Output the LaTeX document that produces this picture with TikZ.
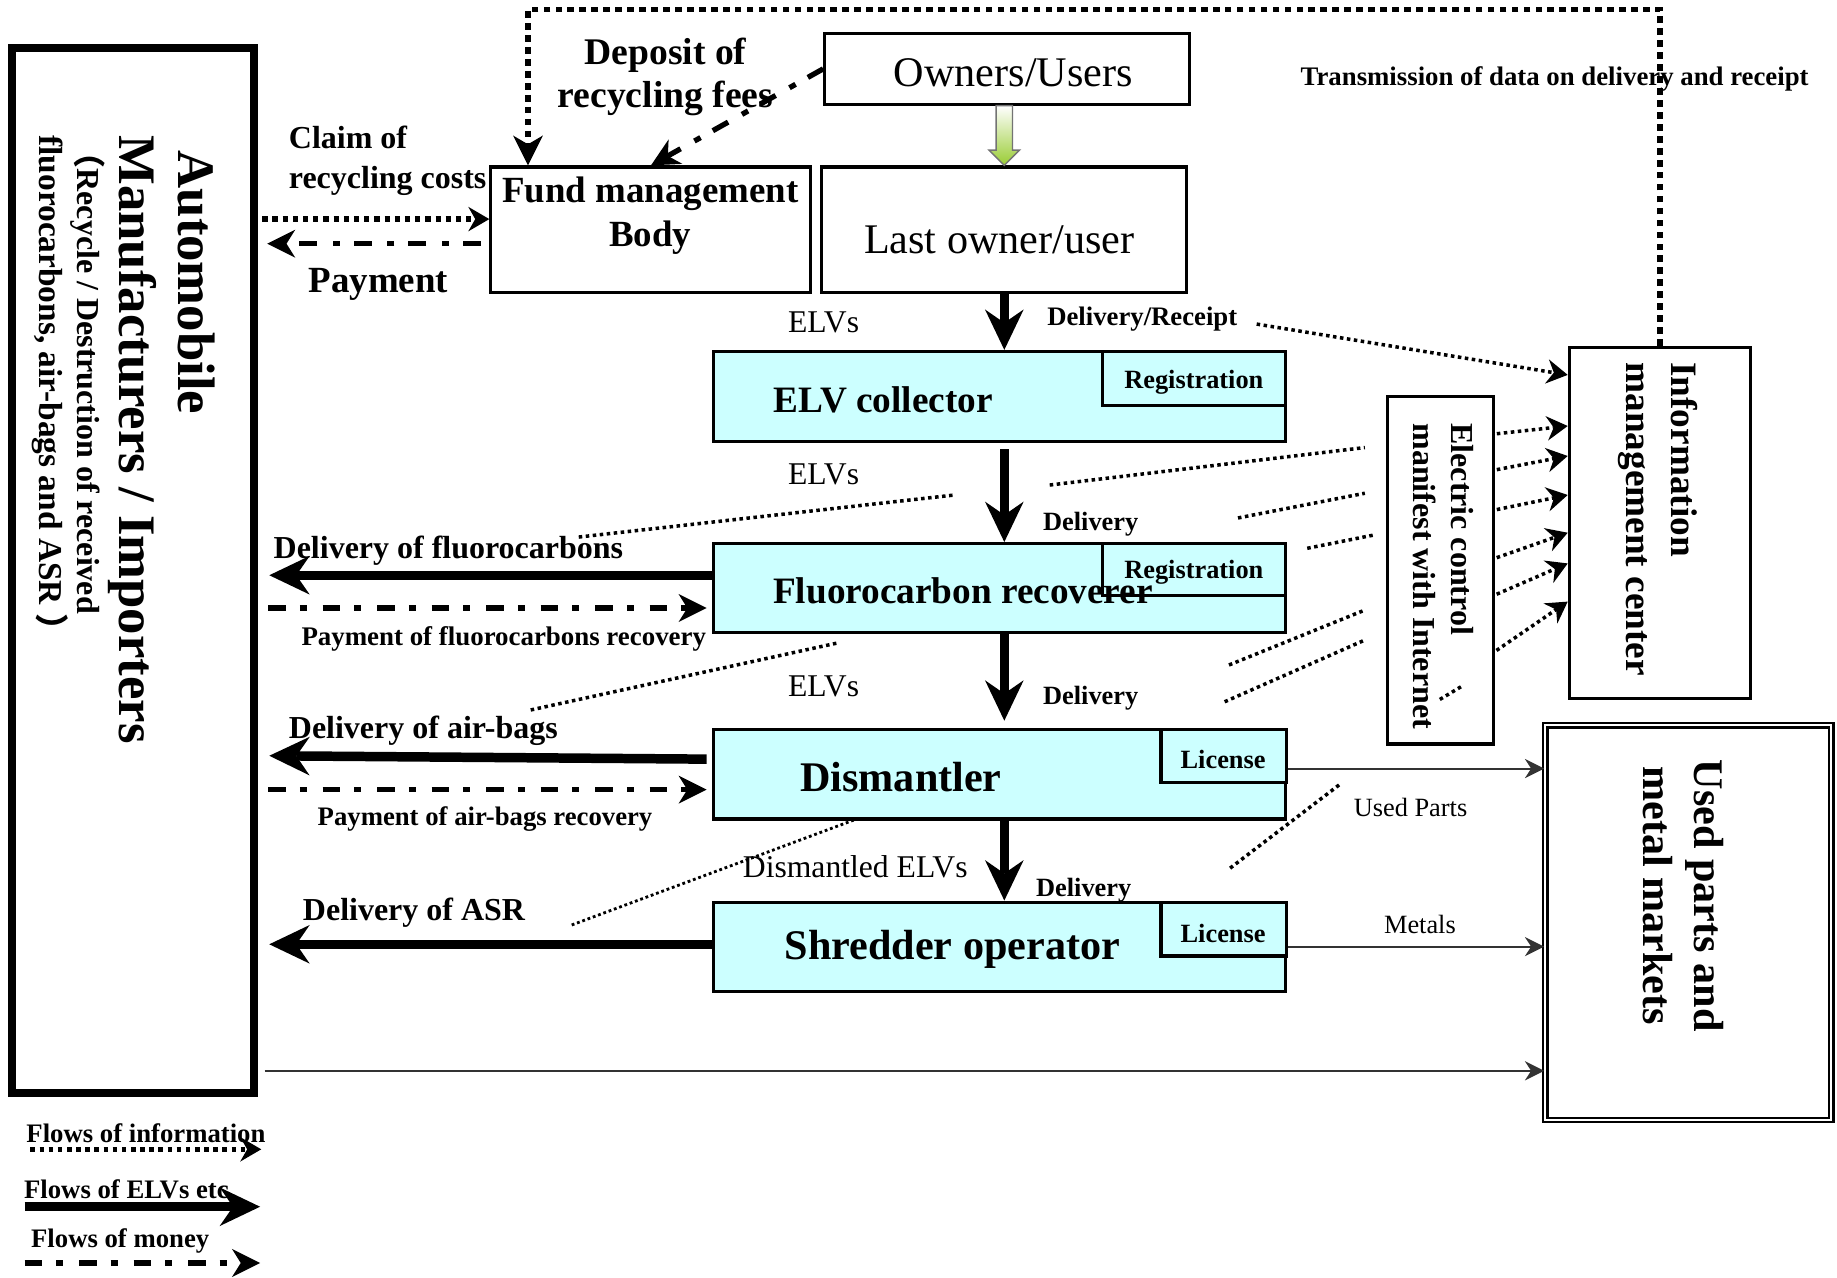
\documentclass[tikz,border=0pt]{standalone}
\usepackage{fontspec}
\setmainfont{Liberation Serif}
\newfontfamily\cjk{Noto Sans CJK SC}
\usetikzlibrary{arrows.meta,calc,fit}
\definecolor{elvcyan}{HTML}{CCFFFF}
\definecolor{arrowgreen}{HTML}{99CC33}
\newcommand\sz[2]{\fontsize{#1}{#2}\selectfont}

\tikzset{
  box/.style={draw, line width=0.9pt, inner sep=0pt},
  elvbox/.style={box, fill=elvcyan},
  lbl/.style={inner sep=0pt, align=center, yshift=-0.7pt},
  vlbl/.style={inner sep=0pt, rotate=-90, anchor=base west},
  elvtip/.tip={Stealth[length=11.5pt,width=11pt,inset=3.8pt,line width=0pt]},
  moneytip/.tip={Stealth[length=8pt,width=8pt,inset=2.5pt,line width=0pt]},
  infotip/.tip={Stealth[length=6pt,width=7pt,inset=2pt,line width=0pt]},
  looptip/.tip={Stealth[length=8.5pt,width=8.5pt,inset=2.5pt,line width=0pt]},
  goodstip/.tip={Stealth[length=5.5pt,width=5.5pt,inset=1.8pt,line width=0pt]},
  elvflow/.style={line width=2.7pt, -elvtip},
  money/.style={line width=1.5pt, dash pattern=on 5pt off 4pt on 2pt off 4.5pt, -moneytip},
  infoflow/.style={line width=1.3pt, dash pattern=on 1.3pt off 1.3pt},
  infoline/.style={line width=1pt, dash pattern=on 1pt off 1pt},
  goods/.style={line width=0.6pt, black!80, -goodstip},
}

\begin{document}
\begin{tikzpicture}[x=0.3333pt,y=-0.3333pt]
  \useasboundingbox (0,0) rectangle (1568,1090);

  % boxes
  \node[box, line width=2.3pt, fit={(10.5,41) (216.5,933)}] (auto) {};
  \node[box, fit={(704,28.5) (1015,89)}] (owners) {};
  \node[box, fit={(419,142.5) (692,250)}] (fund) {};
  \node[box, fit={(701.5,142.5) (1013,250)}] (last) {};
  \node[elvbox, fit={(609,300) (1097,376.5)}] (elv) {};
  \node[elvbox, fit={(941,300) (1097,346)}] (reg1) {};
  \node[elvbox, fit={(609,464) (1097,540)}] (fluoro) {};
  \node[elvbox, fit={(941,464) (1097,508)}] (reg2) {};
  \node[elvbox, fit={(609,622.5) (1097,699)}] (dism) {};
  \node[elvbox, fit={(991,622.5) (1098,668)}] (lic1) {};
  \node[elvbox, fit={(609,770) (1097,846)}] (shred) {};
  \node[elvbox, fit={(991,770) (1098,816)}] (lic2) {};
  \node[box, fit={(1184,338.5) (1274.5,635)}] (ecm) {};
  \node[box, fit={(1339.5,296.5) (1494.5,596.5)}] (imc) {};
  \node[box, line width=0.65pt, double, double distance=0.65pt, fit={(1319,619) (1563,956)}] (markets) {};

  % texts in the boxes
  \node[lbl, font=\sz{12}{14}] (ownerstxt) at (865,60) {Owners/Users};
  \node[lbl, font=\sz{10.5}{12.7}\bfseries] (fundtxt) at (555,182) {Fund management\\Body};
  \node[lbl, font=\sz{12}{14}] (lasttxt) at (853,203) {Last owner/user};
  \node[lbl, font=\sz{10.6}{12}\bfseries] (elvtxt) at (754,339) {ELV collector};
  \node[lbl, font=\sz{7.5}{9}\bfseries] (regtxt1) at (1019,324) {Registration};
  \node[lbl, font=\sz{7.5}{9}\bfseries] (regtxt2) at (1019,486) {Registration};
  \node[lbl, font=\sz{10.6}{12}\bfseries] (fluotxt) at (822,502) {Fluorocarbon recoverer};
  \node[lbl, font=\sz{12}{14}\bfseries] (dismtxt) at (769,661) {Dismantler};
  \node[lbl, font=\sz{7.5}{9}\bfseries] (lictxt1) at (1044,646) {License};
  \node[lbl, font=\sz{12}{14}\bfseries] (shredtxt) at (813,808) {Shredder operator};
  \node[lbl, font=\sz{7.5}{9}\bfseries] (lictxt2) at (1044,795) {License};

  % rotated texts
  \node[vlbl, font=\sz{15}{18}\bfseries] (auto1) at (152,128) {Automobile};
  \node[vlbl, font=\sz{15}{18}\bfseries] (auto2) at (102,115) {Manufacturers / Importers};
  \node[vlbl, font=\sz{9.1}{11}\bfseries] (auto3) at (66.5,116) {{\cjk （}Recycle / Destruction of received};
  \node[vlbl, font=\sz{9.5}{11}\bfseries] (auto4) at (34,115) {fluorocarbons, air-bags and ASR {\cjk ）}};
  \node[vlbl, font=\sz{10.6}{12}\bfseries] (imc1) at (1427,308.7) {Information};
  \node[vlbl, font=\sz{10.6}{12}\bfseries] (imc2) at (1388.5,308.7) {management center};
  \node[vlbl, font=\sz{9.1}{11}\bfseries] (ecm1) at (1239,360.8) {Electric control};
  \node[vlbl, font=\sz{9.1}{11}\bfseries] (ecm2) at (1206.3,360.8) {manifest with Internet};
  \node[vlbl, anchor=base, font=\sz{12}{14}\bfseries] (mk1) at (1446,764.5) {Used parts and};
  \node[vlbl, anchor=base, font=\sz{12}{14}\bfseries] (mk2) at (1403,764.5) {metal markets};

  % labels on the flows
  \node[lbl, font=\sz{10.7}{12.3}\bfseries] (deposit) at (568,63.5) {Deposit of\\recycling fees};
  \node[lbl, align=left, anchor=west, font=\sz{9.1}{11.3}\bfseries] (claim) at (246,135) {Claim of\\recycling costs};
  \node[lbl, font=\sz{10.5}{12}\bfseries] (paytxt) at (323,241) {Payment};
  \node[lbl, font=\sz{7.62}{9}\bfseries] (transm) at (1327,65) {Transmission of data on delivery and receipt};
  \node[lbl, font=\sz{9}{11}] (elvs1) at (703,273) {ELVs};
  \node[lbl, font=\sz{9}{11}] (elvs2) at (703,403) {ELVs};
  \node[lbl, font=\sz{9}{11}] (elvs3) at (703,584) {ELVs};
  \node[lbl, font=\sz{9}{11}] (dismelvs) at (730,738) {Dismantled ELVs};
  \node[lbl, font=\sz{7.6}{9}\bfseries] (delrec) at (975,270) {Delivery/Receipt};
  \node[lbl, font=\sz{7.5}{9}\bfseries] (del1) at (931,445) {Delivery};
  \node[lbl, font=\sz{7.5}{9}\bfseries] (del2) at (931,594) {Delivery};
  \node[lbl, font=\sz{7.5}{9}\bfseries] (del3) at (925,758) {Delivery};
  \node[lbl, anchor=west, font=\sz{9.1}{11}\bfseries] (delfluo) at (233,468) {Delivery of fluorocarbons};
  \node[lbl, font=\sz{7.65}{9}\bfseries] (payfluo) at (430,543) {Payment of fluorocarbons recovery};
  \node[lbl, anchor=west, font=\sz{9.1}{11}\bfseries] (delair) at (246,622) {Delivery of air-bags};
  \node[lbl, font=\sz{7.6}{9}\bfseries] (payair) at (414,697) {Payment of air-bags recovery};
  \node[lbl, anchor=west, font=\sz{9.1}{11}\bfseries] (delasr) at (258,777) {Delivery of ASR};
  \node[lbl, font=\sz{7.5}{9}] (usedparts) at (1204,687) {Used Parts};
  \node[lbl, font=\sz{7.5}{9}] (metals) at (1212,787) {Metals};

  % legend
  \node[lbl, anchor=west, font=\sz{7.6}{9}\bfseries] (leginfo) at (22,965) {Flows of information};
  \node[lbl, anchor=west, font=\sz{7.6}{9}\bfseries] (legelv) at (20,1013) {Flows of ELVs etc};
  \node[lbl, anchor=west, font=\sz{7.6}{9}\bfseries] (legmoney) at (26,1057) {Flows of money};
  \draw[infoflow, -infotip] (26,981) -- (223,981);
  \draw[elvflow] (21,1030) -- (222,1030);
  \draw[money] (21,1078) -- (222,1078);

  % owners to last owner
  \shadedraw[top color=white, bottom color=arrowgreen, draw=black!55, line width=0.4pt]
    (last.north) -- ++(-13,-13) -- ++(6,0) -- ++(0,-38) -- ++(14,0) -- ++(0,38) -- ++(6,0) -- cycle;

  % flows of ELVs
  \draw[elvflow] (last.south) -- (last.south |- elv.north);
  \draw[elvflow, shorten <=1.8pt] (elv.south -| last.south) -- (fluoro.north -| last.south);
  \draw[elvflow, shorten >=2pt] (fluoro.south -| last.south) -- (dism.north -| last.south);
  \draw[elvflow] (dism.south -| last.south) -- (shred.north -| last.south);
  \draw[elvflow, shorten >=3.3pt] (fluoro.west |- 0,491) -- (auto.east |- 0,491);
  \draw[elvflow, shorten >=3.3pt, shorten <=1.5pt] (dism.west |- 0,648) -- (auto.east |- 0,645);
  \draw[elvflow, shorten >=3.3pt] (shred.west |- 0,806) -- (auto.east |- 0,806);

  % flows of money
  \draw[money] (owners.west) -- ($(fund.north west)+(138,0)$);
  \draw[money, shorten <=2.5pt, shorten >=2.7pt] (fund.west |- 0,208) -- (auto.east |- 0,208);
  \draw[money, shorten <=3pt, shorten >=1.5pt] (auto.east |- 0,519) -- (fluoro.west |- 0,519);
  \draw[money, shorten <=3pt, shorten >=1.5pt] (auto.east |- 0,674) -- (dism.west |- 0,674);

  % flows of information
  \draw[infoflow, line width=1.5pt, dash pattern=on 1.5pt off 1.4pt, -infotip, shorten <=1.3pt] (auto.east |- 0,187) -- (fund.west |- 0,187);
  \draw[infoflow, line width=1.5pt, dash pattern=on 1.9pt off 1.5pt, -looptip]
    (imc.north) |- ($(fund.north west)+(33,-133)$) -- ($(fund.north west)+(33,0)$);
  \draw[infoline, -infotip] ($(delrec.east)+(16,4.5)$) -- (imc.west |- 0,320);
  \foreach \a/\b in {370.4/363.6, 401.2/389.2, 435.3/422.5, 476.6/454.7, 507.9/480.9, 556.2/513.5}
    \draw[infoline, -infotip, shorten <=0.6pt] (ecm.east |- 0,\a) -- (imc.west |- 0,\b);
  \foreach \xa/\ya/\xb/\yb in {494/458.4/814.7/422.5, 896/414/1165/382, 1056.7/442.1/1165/421,
      1115.8/468/1173/456.6, 453/606/714/549, 1049/567.6/1165/520.7,
      1045.3/599/1165/546.3, 1050/741/1143/670, 1229/597/1249/585}
    \draw[infoline] (\xa,\ya) -- (\xb,\yb);
  \draw[infoline, line width=0.8pt, dash pattern=on 0.8pt off 0.8pt] (488,789.5) -- (730,699.5);

  % used parts and metals
  \draw[goods] (lic1.east |- 0,656) -- (markets.west |- 0,656);
  \draw[goods] (lic2.east |- 0,808) -- (markets.west |- 0,808);
  \draw[goods, shorten <=2pt] (auto.east |- 0,914) -- (markets.west |- 0,914);

\end{tikzpicture}
\end{document}
